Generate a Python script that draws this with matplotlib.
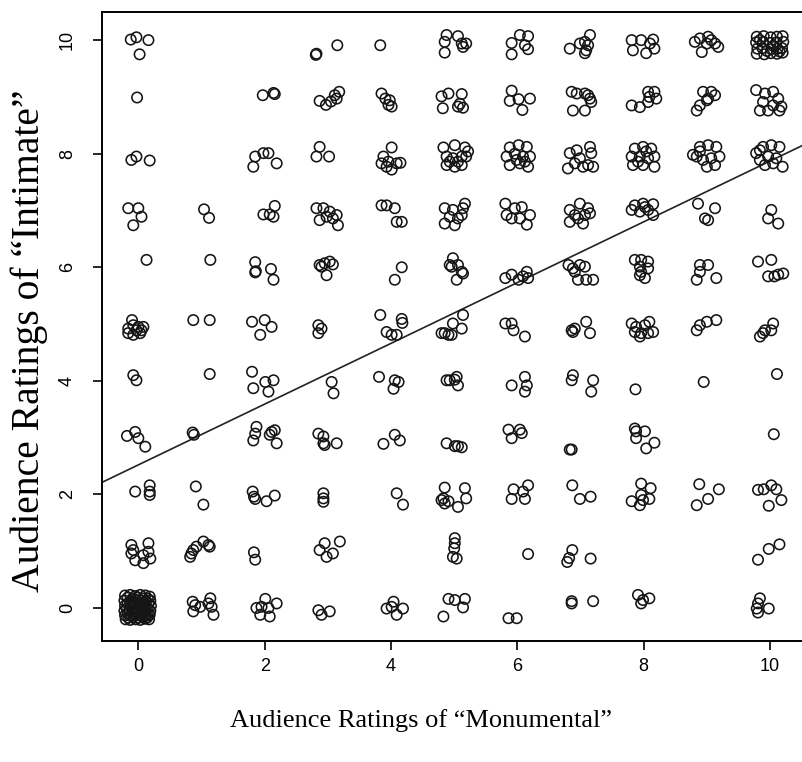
import matplotlib
matplotlib.use("Agg")
import matplotlib.pyplot as plt

# jittered ratings:
# intimate level -> {monumental level: [(dx, dy), ...]}
intimate_10 = {
    0: [(-0.12, 0.01), (-0.03, 0.05), (0.16, 0.0), (0.02, -0.25)],
    3: [(-0.19, -0.26), (-0.18, -0.24), (0.15, -0.09)],
    4: [(-0.17, -0.09)],
    5: [(-0.12, 0.09), (-0.15, -0.03), (-0.15, -0.22), (0.06, 0.07), (0.12, -0.06), (0.19, -0.06), (0.14, -0.12)],
    6: [(0.04, 0.09), (0.17, 0.07), (-0.09, -0.05), (0.12, -0.09), (0.17, -0.16), (-0.09, -0.25)],
    7: [(-0.17, -0.15), (-0.01, -0.06), (0.07, -0.03), (0.15, 0.09), (0.12, -0.09), (0.07, -0.23), (0.09, -0.18)],
    8: [(-0.19, 0.0), (-0.04, 0.0), (0.15, 0.01), (-0.17, -0.18), (0.04, -0.23), (0.10, -0.06), (0.17, -0.15)],
    9: [(-0.19, -0.03), (-0.11, 0.03), (0.02, 0.06), (0.13, -0.06), (0.18, -0.12), (-0.08, -0.21), (0.0, -0.06), (0.07, 0.0)],
    10: [(-0.21, 0.06), (-0.10, 0.07), (0.01, 0.05), (0.11, 0.06), (0.20, 0.07),
         (-0.22, -0.04), (-0.11, -0.03), (0.0, -0.05), (0.10, -0.04), (0.21, -0.03),
         (-0.20, -0.15), (-0.12, -0.14), (0.02, -0.16), (0.12, -0.15), (0.19, -0.14),
         (-0.21, -0.24), (-0.09, -0.25), (0.01, -0.23), (0.11, -0.24), (0.20, -0.22),
         (-0.16, 0.0), (0.05, -0.10), (0.15, -0.20), (-0.05, -0.19)],
}
intimate_9 = {
    0: [(-0.02, -0.01)],
    2: [(-0.03, 0.03), (0.14, 0.07), (0.16, 0.05)],
    3: [(-0.13, -0.07), (-0.03, -0.14), (0.05, -0.08), (0.11, 0.03), (0.18, 0.09), (0.14, -0.03)],
    4: [(-0.15, 0.06), (-0.09, -0.03), (-0.02, -0.06), (0.01, -0.17), (-0.04, -0.14)],
    5: [(-0.20, 0.01), (-0.09, 0.06), (-0.18, -0.20), (0.12, 0.05), (0.06, -0.17), (0.14, -0.19), (0.09, -0.12)],
    6: [(-0.09, 0.11), (-0.12, -0.07), (0.02, -0.04), (0.20, -0.03), (0.08, -0.23)],
    7: [(-0.14, 0.09), (-0.06, 0.06), (0.07, 0.06), (0.15, -0.03), (0.17, -0.09), (-0.12, -0.24), (0.07, -0.24), (0.12, 0.03)],
    8: [(-0.19, -0.15), (-0.06, -0.18), (0.07, -0.09), (0.07, 0.09), (0.17, 0.09), (0.20, -0.03), (0.09, 0.0)],
    9: [(-0.06, 0.09), (0.07, 0.09), (0.13, 0.03), (0.02, -0.03), (-0.11, -0.15), (-0.16, -0.24), (0.0, -0.06)],
    10: [(-0.22, 0.12), (-0.08, 0.06), (0.05, 0.09), (0.13, -0.03), (0.18, -0.17), (-0.16, -0.24), (-0.03, -0.24),
         (0.05, -0.15), (0.15, -0.24), (-0.11, -0.09)],
}
intimate_8 = {
    0: [(-0.11, -0.11), (-0.03, -0.05), (0.18, -0.12)],
    2: [(-0.18, -0.23), (-0.15, -0.05), (-0.02, 0.01), (0.06, 0.01), (0.19, -0.17)],
    3: [(-0.13, 0.12), (-0.18, -0.05), (0.02, -0.05)],
    4: [(-0.12, -0.05), (0.01, 0.11), (-0.15, -0.17), (-0.04, -0.14), (0.09, -0.17), (0.15, -0.16), (0.01, -0.28), (-0.07, -0.23)],
    5: [(-0.17, 0.11), (0.01, 0.15), (0.17, 0.11), (-0.12, -0.05), (-0.02, -0.08), (0.12, -0.05), (0.19, -0.05),
        (-0.12, -0.20), (0.01, -0.23), (0.12, -0.20), (-0.07, -0.14), (0.06, -0.14), (0.22, 0.04)],
    6: [(-0.12, 0.11), (0.02, 0.15), (0.15, 0.12), (-0.17, -0.05), (-0.04, 0.0), (0.09, -0.05), (0.20, -0.05),
        (-0.12, -0.20), (0.04, -0.17), (0.17, -0.23), (-0.01, -0.11), (0.12, -0.14)],
    7: [(-0.17, 0.01), (-0.09, -0.17), (-0.01, -0.08), (0.15, 0.12), (0.17, 0.01), (0.12, -0.20), (0.20, -0.23),
        (0.04, -0.23), (-0.20, -0.26), (-0.06, 0.06)],
    8: [(-0.14, 0.09), (-0.01, 0.12), (0.12, 0.09), (-0.19, -0.05), (-0.06, -0.05), (0.07, -0.08), (0.17, -0.05),
        (-0.17, -0.20), (-0.01, -0.20), (0.17, -0.23), (0.04, 0.04), (-0.09, -0.14)],
    9: [(-0.22, -0.02), (-0.11, 0.12), (0.02, 0.15), (0.15, 0.12), (0.20, -0.05), (-0.16, -0.05), (-0.06, -0.11),
        (0.07, -0.08), (0.13, -0.20), (0.0, -0.23), (-0.11, 0.04)],
    10: [(-0.22, 0.01), (-0.11, 0.12), (0.02, 0.15), (0.15, 0.12), (-0.16, -0.11), (-0.03, -0.05), (0.10, -0.08),
         (0.20, -0.23), (-0.08, -0.20), (0.05, -0.17), (-0.16, 0.06)],
}
intimate_7 = {
    0: [(-0.16, 0.04), (0.0, 0.04), (0.05, -0.11), (-0.08, -0.26)],
    1: [(0.04, 0.02), (0.12, -0.13)],
    2: [(-0.02, -0.07), (0.08, -0.07), (0.16, 0.08), (0.14, -0.11)],
    3: [(-0.18, 0.04), (-0.07, 0.04), (0.03, -0.02), (-0.13, -0.17), (-0.02, -0.11), (0.14, -0.08), (0.16, -0.26), (0.08, -0.14)],
    4: [(-0.15, 0.09), (-0.07, 0.09), (0.06, 0.04), (0.09, -0.20), (0.17, -0.20)],
    5: [(-0.15, 0.04), (-0.02, 0.01), (0.17, 0.12), (0.14, 0.04), (-0.15, -0.23), (0.01, -0.26), (0.06, -0.14),
        (-0.07, -0.11), (0.12, -0.08)],
    6: [(-0.19, 0.12), (-0.17, -0.08), (-0.04, 0.04), (0.07, 0.06), (0.20, -0.08), (0.15, -0.25), (-0.09, -0.14), (0.04, -0.14)],
    7: [(-0.17, 0.01), (-0.01, 0.12), (0.12, 0.04), (0.07, -0.08), (-0.04, -0.14), (-0.17, -0.20), (0.04, -0.23),
        (-0.09, -0.08), (0.15, -0.05)],
    8: [(-0.14, 0.09), (-0.01, 0.12), (0.15, 0.11), (-0.19, 0.01), (-0.06, -0.02), (0.07, 0.01), (0.15, -0.08), (0.02, 0.06)],
    9: [(-0.14, 0.12), (0.13, 0.04), (-0.03, -0.14), (0.02, -0.17)],
    10: [(0.02, 0.01), (-0.03, -0.14), (0.13, -0.23)],
}
intimate_6 = {
    0: [(0.13, 0.13)],
    1: [(0.14, 0.13)],
    2: [(-0.15, 0.09), (-0.15, -0.09), (-0.14, -0.07), (0.10, -0.03), (0.14, -0.22)],
    3: [(-0.13, 0.04), (-0.05, 0.07), (0.03, 0.10), (0.08, 0.05), (-0.02, -0.14), (-0.10, 0.01)],
    4: [(0.06, -0.22), (0.17, 0.0)],
    5: [(-0.02, 0.16), (-0.04, 0.01), (0.06, 0.04), (0.12, -0.08), (0.04, -0.22), (-0.07, 0.04), (0.14, -0.11)],
    6: [(-0.19, -0.19), (-0.09, -0.13), (0.02, -0.22), (0.15, -0.08), (0.17, -0.19), (0.09, -0.16)],
    7: [(-0.19, 0.04), (-0.09, -0.08), (-0.01, 0.04), (0.07, 0.01), (-0.04, -0.22), (0.09, -0.22), (0.20, -0.22), (-0.12, -0.02)],
    8: [(-0.14, 0.13), (-0.04, 0.13), (0.07, 0.10), (-0.06, 0.01), (0.07, -0.02), (-0.06, -0.14), (0.02, -0.19), (-0.04, -0.08)],
    9: [(-0.11, 0.04), (0.02, 0.04), (-0.11, -0.08), (-0.16, -0.22), (0.15, -0.19)],
    10: [(-0.19, 0.10), (0.02, 0.13), (-0.03, -0.16), (0.13, -0.13), (0.21, -0.11), (0.07, -0.16)],
}
intimate_5 = {
    0: [(-0.16, -0.08), (-0.08, -0.02), (0.0, -0.05), (0.05, -0.11), (-0.16, -0.16), (-0.08, -0.19), (0.03, -0.16),
        (-0.10, 0.07), (-0.03, -0.11), (0.08, -0.05)],
    1: [(-0.13, 0.07), (0.13, 0.07)],
    2: [(-0.20, 0.04), (-0.07, -0.19), (0.11, -0.05), (0.0, 0.07)],
    3: [(-0.15, -0.02), (-0.10, -0.08), (-0.15, -0.16)],
    4: [(-0.17, 0.16), (0.17, 0.09), (0.18, 0.02), (-0.07, -0.14), (0.01, -0.19), (0.09, -0.19)],
    5: [(-0.20, -0.16), (-0.15, -0.16), (-0.09, -0.19), (-0.04, -0.19), (-0.02, 0.01), (0.12, -0.08), (0.14, 0.16)],
    6: [(-0.19, 0.01), (-0.06, -0.11), (0.12, -0.22), (-0.09, 0.01)],
    7: [(-0.14, -0.11), (-0.09, -0.08), (0.15, -0.16), (0.09, 0.04), (-0.12, -0.14)],
    8: [(-0.19, 0.01), (-0.14, -0.14), (-0.06, -0.22), (0.07, -0.16), (0.15, -0.14), (0.02, -0.02), (-0.12, -0.05),
        (0.09, 0.04), (-0.04, -0.16)],
    9: [(-0.16, -0.11), (-0.11, -0.02), (0.0, 0.04), (0.15, 0.07)],
    10: [(-0.16, -0.22), (-0.08, -0.11), (0.02, -0.11), (0.05, 0.01), (-0.11, -0.16)],
}
intimate_4 = {
    0: [(-0.08, 0.10), (-0.03, 0.01)],
    1: [(0.13, 0.12)],
    2: [(-0.20, 0.16), (0.01, -0.02), (0.14, 0.01), (0.06, -0.19), (-0.18, -0.13)],
    3: [(0.06, -0.02), (0.09, -0.22)],
    4: [(-0.19, 0.07), (0.06, 0.01), (0.12, -0.02), (0.04, -0.14)],
    5: [(-0.12, 0.01), (-0.07, 0.01), (0.04, 0.07), (0.06, -0.08), (0.01, 0.02)],
    6: [(-0.09, -0.08), (0.12, 0.07), (0.15, -0.08), (0.12, -0.19)],
    7: [(-0.14, 0.01), (-0.12, 0.10), (0.20, 0.01), (0.17, -0.19)],
    8: [(-0.13, -0.15)],
    9: [(-0.05, -0.02)],
    10: [(0.11, 0.12)],
}
intimate_3 = {
    0: [(-0.18, 0.03), (-0.05, 0.10), (0.0, -0.01), (0.11, -0.16)],
    1: [(-0.14, 0.09), (-0.12, 0.05)],
    2: [(-0.13, 0.19), (-0.15, 0.07), (-0.18, -0.05), (0.11, 0.10), (0.16, 0.13), (0.19, -0.10), (0.08, 0.05)],
    3: [(-0.15, 0.07), (-0.07, 0.02), (-0.07, -0.10), (-0.05, -0.13), (0.14, -0.10)],
    4: [(-0.12, -0.11), (0.06, 0.05), (0.14, -0.05)],
    5: [(-0.12, -0.10), (0.01, -0.15), (0.06, -0.15), (0.12, -0.17)],
    6: [(-0.14, 0.14), (-0.09, -0.01), (0.04, 0.14), (0.07, 0.08)],
    7: [(-0.17, -0.21), (-0.14, -0.21)],
    8: [(-0.14, 0.16), (-0.12, 0.11), (0.02, 0.11), (-0.12, -0.01), (0.17, -0.09), (0.04, -0.19)],
    10: [(0.06, 0.06)],
}
intimate_2 = {
    0: [(-0.05, 0.05), (0.18, 0.16), (0.18, 0.05), (0.18, -0.01)],
    1: [(-0.09, 0.14), (0.03, -0.18)],
    2: [(-0.19, 0.05), (-0.17, -0.04), (-0.15, -0.08), (0.03, -0.12), (0.16, -0.02)],
    3: [(-0.07, 0.02), (-0.07, -0.07), (-0.07, -0.13)],
    4: [(0.09, 0.02), (0.19, -0.18)],
    5: [(-0.15, 0.12), (0.17, 0.11), (0.19, -0.07), (0.06, -0.22), (-0.20, -0.10), (-0.15, -0.16), (-0.17, -0.07), (-0.09, -0.12)],
    6: [(-0.06, 0.09), (0.17, 0.16), (0.09, 0.05), (-0.09, -0.08), (0.12, -0.08)],
    7: [(-0.13, 0.16), (-0.01, -0.08), (0.16, -0.04)],
    8: [(-0.04, 0.19), (0.11, 0.11), (-0.19, -0.12), (-0.06, -0.19), (-0.01, -0.10), (0.09, -0.08), (-0.04, -0.01)],
    9: [(-0.12, 0.18), (0.19, 0.09), (0.02, -0.08), (-0.16, -0.19)],
    10: [(-0.19, 0.08), (-0.10, 0.09), (0.02, 0.16), (0.10, 0.09), (0.18, -0.10), (-0.02, -0.20)],
}
intimate_1 = {
    0: [(-0.11, 0.11), (-0.11, -0.04), (-0.05, -0.16), (0.08, -0.21), (0.16, 0.14), (0.16, -0.01), (0.19, -0.13),
        (0.08, -0.07), (-0.08, 0.02)],
    1: [(-0.18, -0.10), (-0.13, 0.02), (-0.08, 0.08), (0.03, 0.17), (0.11, 0.11), (0.13, 0.08), (-0.16, -0.04)],
    2: [(-0.17, -0.02), (-0.15, -0.15)],
    3: [(-0.05, 0.14), (-0.13, 0.02), (-0.02, -0.10), (0.08, -0.04), (0.19, 0.17)],
    5: [(0.01, 0.23), (0.01, 0.14), (0.0, 0.05), (-0.02, -0.10), (0.04, -0.13)],
    6: [(0.17, -0.05)],
    7: [(-0.13, 0.02), (-0.18, -0.12), (-0.21, -0.19), (0.16, -0.13)],
    10: [(-0.19, -0.15), (-0.02, 0.04), (0.15, 0.12)],
}
intimate_0 = {
    0: [(-0.21, 0.22), (-0.13, 0.23), (-0.05, 0.21), (0.03, 0.23), (0.11, 0.22), (0.18, 0.20),
        (-0.22, 0.13), (-0.12, 0.12), (-0.04, 0.14), (0.04, 0.13), (0.12, 0.12), (0.19, 0.13),
        (-0.21, 0.04), (-0.13, 0.05), (-0.05, 0.03), (0.03, 0.04), (0.10, 0.05), (0.20, 0.04),
        (-0.22, -0.05), (-0.14, -0.04), (-0.06, -0.06), (0.02, -0.05), (0.11, -0.04), (0.19, -0.05),
        (-0.21, -0.13), (-0.12, -0.14), (-0.05, -0.12), (0.04, -0.13), (0.12, -0.14), (0.18, -0.12),
        (-0.20, -0.20), (-0.13, -0.21), (-0.04, -0.20), (0.03, -0.21), (0.11, -0.19), (0.17, -0.20),
        (-0.17, 0.18), (-0.09, 0.17), (-0.01, 0.18), (0.07, 0.17), (0.15, 0.16),
        (-0.17, 0.08), (-0.08, 0.09), (0.0, 0.08), (0.08, 0.09), (0.16, 0.08),
        (-0.18, -0.01), (-0.09, 0.0), (-0.01, -0.01), (0.07, 0.0), (0.15, -0.01),
        (-0.17, -0.09), (-0.08, -0.10), (0.0, -0.09), (0.08, -0.09), (0.15, -0.09),
        (-0.16, -0.17), (-0.08, -0.16), (0.0, -0.17), (0.07, -0.16), (0.14, -0.17)],
    1: [(-0.14, 0.11), (-0.10, 0.05), (-0.13, -0.06), (0.14, 0.17), (0.16, 0.02), (0.19, -0.12), (0.11, 0.08), (-0.02, 0.02)],
    2: [(0.01, 0.16), (-0.13, 0.0), (-0.07, -0.12), (0.06, 0.0), (0.19, 0.08), (0.08, -0.15), (-0.05, 0.02)],
    3: [(-0.15, -0.04), (0.03, -0.06), (-0.10, -0.12)],
    4: [(-0.07, -0.01), (0.04, 0.11), (0.09, -0.12), (0.19, -0.01), (0.01, 0.02)],
    5: [(-0.17, -0.15), (-0.09, 0.16), (0.01, 0.14), (0.17, 0.16), (0.14, 0.01)],
    6: [(-0.14, -0.18), (-0.01, -0.18)],
    7: [(-0.14, 0.12), (-0.14, 0.08), (0.20, 0.12)],
    8: [(-0.09, 0.23), (-0.01, 0.14), (0.09, 0.17), (-0.04, 0.08)],
    10: [(-0.16, 0.17), (-0.19, 0.08), (-0.21, -0.01), (-0.19, -0.08), (-0.02, -0.01)],
}

levels = {10: intimate_10, 9: intimate_9, 8: intimate_8, 7: intimate_7, 6: intimate_6,
          5: intimate_5, 4: intimate_4, 3: intimate_3, 2: intimate_2, 1: intimate_1, 0: intimate_0}

# fitted line  intimate = a + b * monumental
fit_intercept = 2.52
fit_slope = 0.535

ticks = [0, 2, 4, 6, 8, 10]

xs, ys = [], []
for yi, cells in levels.items():
    for xm, offs in cells.items():
        for dx, dy in offs:
            xs.append(xm + dx)
            ys.append(yi + dy)

fig = plt.figure(figsize=(8.02, 7.62), dpi=100)
ax = fig.add_axes([0.1268, 0.1592, 0.879, 0.8254])

ax.scatter(xs, ys, s=56, facecolors='none', edgecolors='#151515', linewidths=1.15, zorder=3)
ax.axline((0, fit_intercept), slope=fit_slope, color='#222222', lw=1.2, zorder=2)

ax.set_xlim(-0.58, 10.58)
ax.set_ylim(-0.576, 10.5)
ax.set_xticks(ticks)
ax.set_yticks(ticks)
ax.set_xticklabels([str(t) for t in ticks], fontsize=13, family='Liberation Sans')
ax.set_yticklabels([str(t) for t in ticks], fontsize=13, family='Liberation Sans',
                   rotation=90, va='center')
ax.tick_params(axis='x', length=6.5, width=1.2, pad=6)
ax.tick_params(axis='y', length=6.5, width=1.2, pad=12)
for sp in ax.spines.values():
    sp.set_linewidth(1.4)

fig.text(0.525, 0.055, 'Audience Ratings of \u201cMonumental\u201d', ha='center', va='center',
         fontsize=19, family='Liberation Serif')
fig.text(0.036, 0.553, 'Audience Ratings of \u201cIntimate\u201d', ha='center', va='center',
         fontsize=28.5, family='Liberation Serif', rotation=90)

fig.savefig('out.png', dpi=100)
